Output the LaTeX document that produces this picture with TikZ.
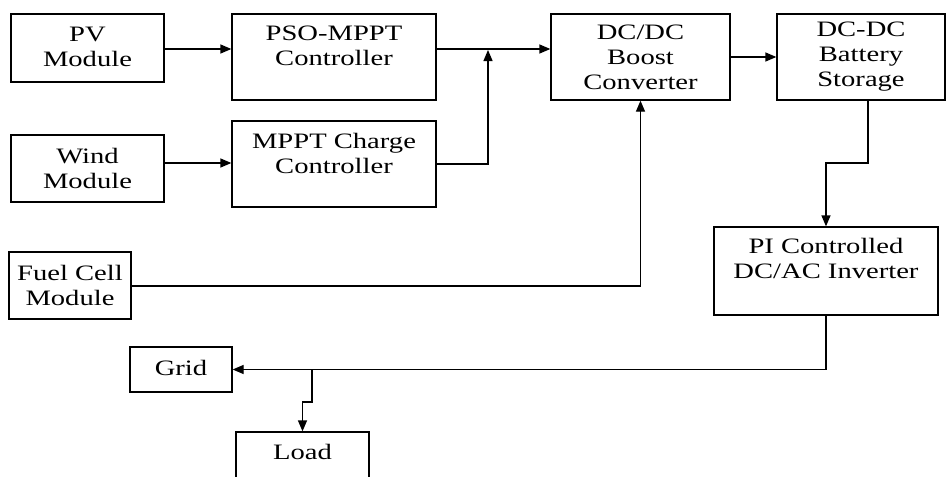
\documentclass[tikz,border=0pt]{standalone}
\usepackage{fontspec}
\setmainfont[FakeStretch=1.3]{Liberation Serif}
\usetikzlibrary{arrows.meta}
\begin{document}
\begin{tikzpicture}[x=1pt,y=-1pt,
  box/.style={draw, line width=1.3pt, inner sep=0pt, minimum width=#1},
  lbl/.style={align=center, inner sep=0pt, font=\fontsize{22}{25}\selectfont},
  arr/.style={line width=1.3pt, -{Triangle[length=11pt,width=9pt]}},
  ln/.style={line width=1.3pt}]
\clip (0,0) rectangle (946,477);
\fill[white] (0,0) rectangle (946,477);
% boxes
\node[box=153, minimum height=68] (pv) at (87.5,48) {};
\node[box=204, minimum height=86] (pso) at (334,57) {};
\node[box=153, minimum height=67] (wind) at (87.5,168.5) {};
\node[box=204, minimum height=86] (mppt) at (334,164) {};
\node[box=179, minimum height=86] (boost) at (640.5,57) {};
\node[box=168, minimum height=86] (batt) at (861,57) {};
\node[box=224, minimum height=88] (pi) at (826,271) {};
\node[box=122, minimum height=67] (fuel) at (70,285.5) {};
\node[box=102, minimum height=45] (grid) at (181,369.5) {};
\node[box=133, minimum height=90] (load) at (302.5,477) {};
% labels
\node[lbl] (tpv) at (87.5,47) {PV\\Module};
\node[lbl] (tpso) at (334,45.5) {PSO-MPPT\\Controller};
\node[lbl] (twind) at (87.5,168.5) {Wind\\Module};
\node[lbl] (tmppt) at (334,153.5) {MPPT Charge\\Controller};
\node[lbl] (tboost) at (640.5,57) {DC/DC\\Boost\\Converter};
\node[lbl] (tbatt) at (861,57) {DC-DC\\Battery\\Storage};
\node[lbl] (tpi) at (826,258.5) {PI Controlled\\DC/AC Inverter};
\node[lbl] (tfuel) at (70,285.5) {Fuel Cell\\Module};
\node[lbl] (tgrid) at (181,368) {Grid};
\node[lbl] (tload) at (302.5,452) {Load};
% junctions
\coordinate (j1) at (488,50);
\coordinate (j2) at (312,370);
% connectors
\draw[arr] (pv.east |- 0,49) -- (pso.west |- 0,49);
\draw[arr] (wind.east |- 0,163) -- (mppt.west |- 0,163);
\draw[arr] (pso.east |- 0,49) -- (boost.west |- 0,49);
\draw[arr] (mppt.east |- 0,164) -| (j1);
\draw[arr] (fuel.east |- 0,286) -| (boost.south);
\draw[arr] (boost.east) -- (batt.west);
\draw[arr] (batt.south -| 868,0) -- (868,163) -| (pi.north);
\draw[arr] (pi.south) |- (grid.east);
\draw[arr] (j2) -- (312,402) -| (load.north);
\end{tikzpicture}
\end{document}
